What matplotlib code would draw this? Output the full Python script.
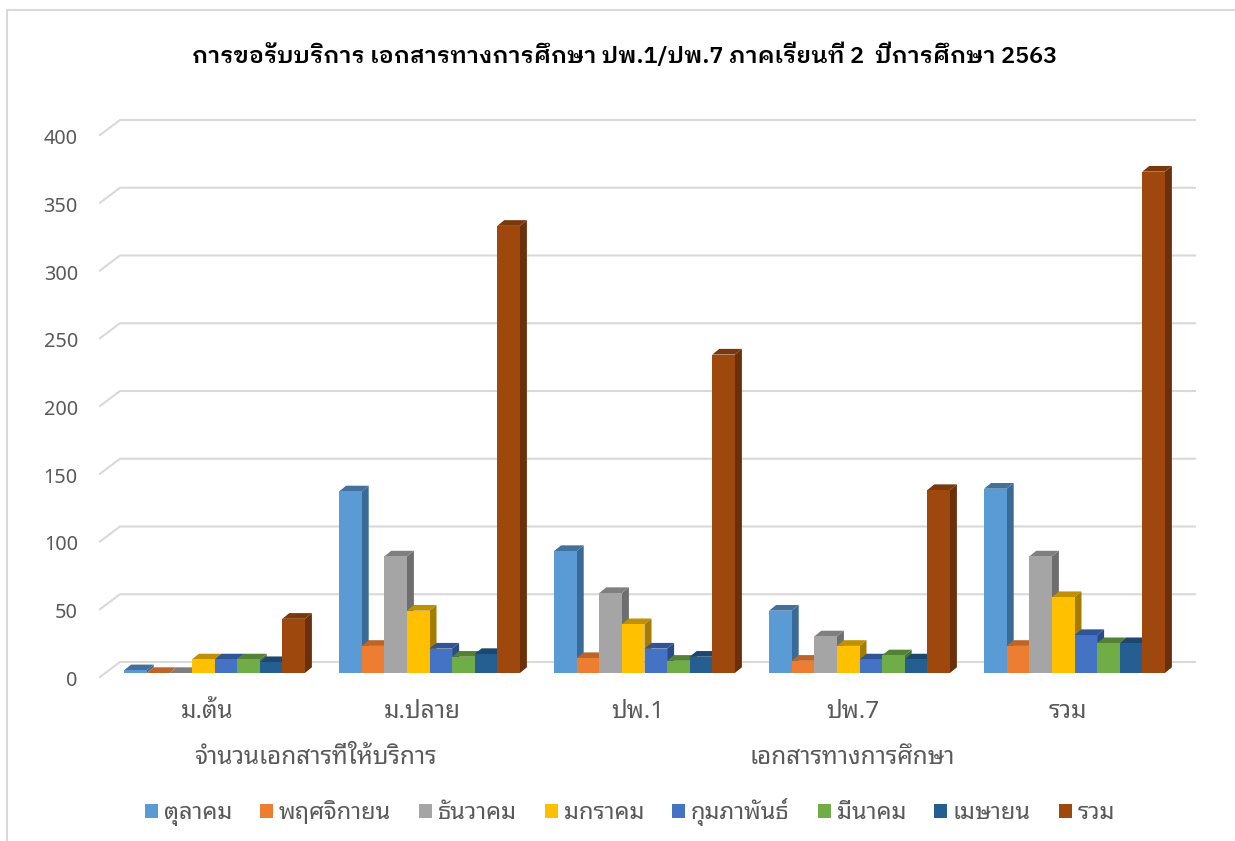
import numpy as np
import matplotlib
matplotlib.use('Agg')
import matplotlib.pyplot as plt
from matplotlib.lines import Line2D
from matplotlib.patches import Patch, Polygon
from matplotlib.transforms import ScaledTranslation

# Data
title = 'การขอรับบริการ เอกสารทางการศึกษา ปพ.1/ปพ.7 ภาคเรียนที่ 2  ปีการศึกษา 2563'
categories = ['ม.ต้น', 'ม.ปลาย', 'ปพ.1', 'ปพ.7', 'รวม']
oct_vals = [2, 134, 90, 46, 136]
nov_vals = [0, 20, 11, 9, 20]
dec_vals = [0, 86, 59, 27, 86]
jan_vals = [10, 46, 36, 20, 56]
feb_vals = [10, 18, 18, 10, 28]
mar_vals = [10, 12, 9, 13, 22]
apr_vals = [8, 14, 12, 10, 22]
total_vals = [40, 330, 235, 135, 370]
series_names = ['ตุลาคม', 'พฤศจิกายน', 'ธันวาคม', 'มกราคม', 'กุมภาพันธ์', 'มีนาคม', 'เมษายน', 'รวม']
yticks = [0, 50, 100, 150, 200, 250, 300, 350, 400]

series = [oct_vals, nov_vals, dec_vals, jan_vals, feb_vals, mar_vals, apr_vals, total_vals]
colors = ['#5B9BD5', '#ED7D31', '#A5A5A5', '#FFC000', '#4472C4', '#70AD47', '#255E91', '#9E480E']
top_colors = ['#41719C', '#BE6426', '#7F7F7F', '#BF9000', '#2F5597', '#548235', '#1C4770', '#7A380B']
side_colors = ['#3A6A96', '#A85820', '#6E6E6E', '#A67C00', '#2A4C86', '#4A722E', '#183E62', '#6B3009']

plt.rcParams['font.family'] = ['Noto Sans', 'Noto Sans Thai Looped', 'DejaVu Sans']

W, H = 1235, 841
fig = plt.figure(figsize=(W / 100, H / 100), dpi=100, facecolor='white')
ax = fig.add_axes([100 / W, 1 - 673 / H, 1075 / W, 542 / H])
ax.set_xlim(-0.5, 4.5)
ax.set_ylim(0, 400)
for s in ax.spines.values():
    s.set_visible(False)

# Chart frame
fig.add_artist(Line2D([7 / W, 7 / W, 1], [0, 1 - 10 / H, 1 - 10 / H], color='#D9D9D9', lw=1.5))

# Wall gridlines with the perspective stub on the left
px_x = 1 / 215
px_y = 400 / 542
for v in yticks:
    ax.plot([-0.5, -0.5 + 20 * px_x, 4.5 + 20 * px_x], [v - 4 * px_y, v + 11 * px_y, v + 11 * px_y],
            color='#D9D9D9', lw=1.5, clip_on=False, zorder=1)

# Bars, front face plus side and top faces
bar_w = 22.6 * px_x
dx = 7 * px_x
dy = 5.7 * px_y
x = np.arange(len(categories))
for i, vals in enumerate(series):
    xpos = x + 7 * px_x + (i - 3.5) * bar_w
    z = 3 + i
    ax.bar(xpos, vals, width=bar_w, color=colors[i], linewidth=0, zorder=z + 0.5, clip_on=False)
    for xp, v in zip(xpos, vals):
        l, r = xp - bar_w / 2, xp + bar_w / 2
        ax.add_patch(Polygon([(r, 0), (r + dx, dy), (r + dx, v + dy), (r, v)],
                             facecolor=side_colors[i], linewidth=0, zorder=z, clip_on=False))
        ax.add_patch(Polygon([(l, v), (l + dx, v + dy), (r + dx, v + dy), (r, v)],
                             facecolor=top_colors[i], linewidth=0, zorder=z, clip_on=False))

# Axis labels
ax.set_yticks(yticks)
ax.set_xticks(x)
ax.set_xticklabels(categories)
ax.tick_params(axis='y', length=0, pad=16, labelsize=14.3, labelcolor='#595959')
ax.tick_params(axis='x', length=0, pad=19.5, labelsize=17.5, labelcolor='#595959')
for lab in ax.get_yticklabels():
    lab.set_transform(lab.get_transform() + ScaledTranslation(0, -5.5 / 100, fig.dpi_scale_trans))

# Second level of the category axis
ax.text(np.mean(x[:2]), -0.156, 'จำนวนเอกสารที่ให้บริการ', transform=ax.get_xaxis_transform(),
        ha='center', va='center', fontsize=17.5, color='#595959')
ax.text(np.mean(x[2:]), -0.156, 'เอกสารทางการศึกษา', transform=ax.get_xaxis_transform(),
        ha='center', va='center', fontsize=17.5, color='#595959')

fig.text(625 / W, 1 - 55 / H, title, ha='center', va='center', fontsize=16.8, fontweight='semibold', color='black',
         family=['IBM Plex Sans Thai Looped', 'Noto Sans'])

handles = [Patch(facecolor=c, label=n) for c, n in zip(colors, series_names)]
fig.legend(handles=handles, loc='center', bbox_to_anchor=(630 / W, 1 - 812 / H), ncol=8, frameon=False,
           fontsize=17, labelcolor='#595959', handlelength=0.55, handleheight=0.55, handletextpad=0.25,
           columnspacing=1.18)

fig.savefig('out.png', dpi=100)
